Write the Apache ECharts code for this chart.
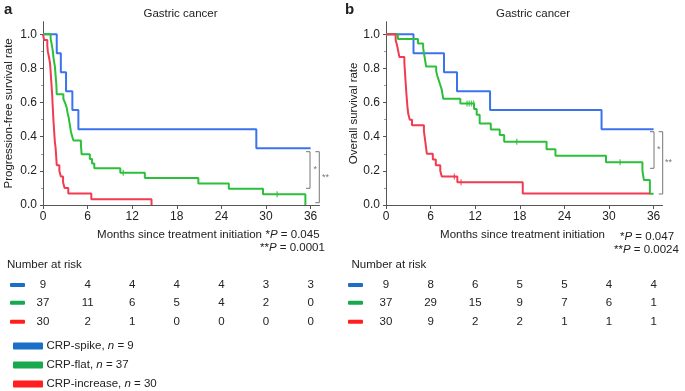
<!DOCTYPE html>
<html>
<head>
<meta charset="utf-8">
<script src="https://cdn.jsdelivr.net/npm/echarts@6/dist/echarts.min.js"></script>
<style>html,body{margin:0;padding:0;background:#fff}#c{width:685px;height:391px}</style>
</head>
<body>
<div id="c"></div>
<script>
// ---------- DATA ----------
const monthTicks = [0, 6, 12, 18, 24, 30, 36];
const yTicks = [0, 0.2, 0.4, 0.6, 0.8, 1.0];
const yMinorTicks = [0.1, 0.3, 0.5, 0.7, 0.9];
const groupNames = ['CRP-spike', 'CRP-flat', 'CRP-increase'];
const groupN = [9, 37, 30];

// Panel a: progression-free survival (step points: time, survival)
const aSpikeT = [0, 1.85, 2.4, 3.1, 3.95, 4.76, 28.7, 36];
const aSpikeS = [1, 0.889, 0.778, 0.667, 0.556, 0.444, 0.333, 0.333];
const aFlatT = [0, 1.03, 1.15, 1.26, 1.35, 1.4, 1.5, 1.6, 1.65, 1.7, 1.75, 1.8, 1.82, 1.85, 2.74, 3.0, 3.2, 3.3, 3.45, 3.55, 3.65, 3.75, 3.9, 4.1, 5.1, 5.15, 5.2, 6.3, 6.6, 6.9, 10.4, 13.7, 20.9, 25.0, 29.6, 35.3];
const aFlatS = [1, 0.973, 0.946, 0.919, 0.892, 0.865, 0.838, 0.811, 0.784, 0.757, 0.73, 0.703, 0.676, 0.649, 0.622, 0.595, 0.568, 0.541, 0.514, 0.486, 0.459, 0.432, 0.405, 0.378, 0.351, 0.324, 0.297, 0.27, 0.243, 0.216, 0.189, 0.158, 0.126, 0.095, 0.063, 0];
const aIncT = [0, 0.15, 0.58, 0.65, 0.8, 0.94, 1.0, 1.05, 1.1, 1.15, 1.2, 1.25, 1.28, 1.32, 1.36, 1.4, 1.45, 1.5, 1.55, 1.6, 1.7, 1.75, 1.8, 1.85, 2.2, 2.4, 2.7, 2.9, 3.4, 6.5, 14.6];
const aIncS = [1, 0.967, 0.933, 0.9, 0.867, 0.833, 0.8, 0.767, 0.733, 0.7, 0.667, 0.633, 0.6, 0.567, 0.533, 0.5, 0.467, 0.433, 0.4, 0.367, 0.333, 0.3, 0.267, 0.233, 0.2, 0.167, 0.133, 0.1, 0.067, 0.033, 0];
const aFlatCensT = [10.8, 31.5];
const aFlatCensS = [0.189, 0.063];

// Panel b: overall survival
const bSpikeT = [0, 3.7, 7.8, 9.55, 14, 29, 36];
const bSpikeS = [1, 0.889, 0.778, 0.667, 0.556, 0.444, 0.444];
const bFlatT = [0, 1.6, 4.3, 5.0, 5.1, 5.2, 5.3, 5.4, 6.75, 6.9, 7.1, 7.3, 7.5, 7.6, 7.7, 10.0, 11.85, 12.2, 12.6, 14.1, 15.3, 15.9, 21.6, 22.8, 29.6, 34.5, 34.7, 35.5, 36];
const bFlatS = [1, 0.973, 0.946, 0.919, 0.892, 0.865, 0.838, 0.811, 0.784, 0.757, 0.73, 0.703, 0.676, 0.649, 0.622, 0.595, 0.562, 0.529, 0.478, 0.443, 0.41, 0.37, 0.326, 0.289, 0.25, 0.2, 0.146, 0.066, 0.066];
const bIncT = [0, 1.3, 1.5, 1.65, 1.8, 2.47, 2.52, 2.57, 2.62, 2.67, 2.72, 2.78, 2.84, 2.9, 3.0, 3.2, 3.5, 5.1, 5.2, 5.3, 5.4, 5.5, 6.3, 6.7, 7.3, 7.5, 9.6, 18.4, 35.5];
const bIncS = [1, 0.967, 0.933, 0.9, 0.867, 0.833, 0.8, 0.767, 0.733, 0.7, 0.667, 0.633, 0.6, 0.567, 0.533, 0.5, 0.467, 0.433, 0.4, 0.367, 0.333, 0.3, 0.267, 0.233, 0.2, 0.167, 0.133, 0.067, 0.067];
const bFlatCensT = [10.9, 11.2, 11.5, 11.8, 17.6, 31.5];
const bFlatCensS = [0.595, 0.595, 0.595, 0.595, 0.37, 0.25];
const bIncCensT = [9.2, 10.1];
const bIncCensS = [0.167, 0.133];

// Number at risk
const aRiskSpike = [9, 4, 4, 4, 4, 3, 3];
const aRiskFlat = [37, 11, 6, 5, 4, 2, 0];
const aRiskInc = [30, 2, 1, 0, 0, 0, 0];
const bRiskSpike = [9, 8, 6, 5, 5, 4, 4];
const bRiskFlat = [37, 29, 15, 9, 7, 6, 1];
const bRiskInc = [30, 9, 2, 2, 1, 1, 1];

// ---------- STYLE ----------
const FONT = "'Liberation Sans', Arial, Helvetica, sans-serif";
const lineCols = ['#3b73ee', '#2cbf3a', '#f23a50'];
const keyCols = ['#1b6fc6', '#18a84e', '#ff1f1f'];
const AX = '#555';
const XMAX = 37.2, YMAX = 1.074;

const pair = (t, s) => t.map((x, i) => [x, s[i]]);

function xAxisFor(g) {
  return {
    type: 'value', gridIndex: g, min: 0, max: XMAX, interval: 6,
    axisLine: { show: true, onZero: false, lineStyle: { color: AX, width: 1 } },
    axisTick: { show: true, length: 4, lineStyle: { color: AX }, customValues: monthTicks },
    axisLabel: { show: true, color: '#222', fontSize: 12, fontFamily: FONT, margin: 6, customValues: monthTicks },
    splitLine: { show: false }
  };
}
function yAxisFor(g, name, gap) {
  return {
    type: 'value', gridIndex: g, min: 0, max: YMAX, interval: 0.2,
    name: name, nameLocation: 'middle', nameGap: gap,
    nameTextStyle: { color: '#222', fontSize: 11.5, fontFamily: FONT },
    axisLine: { show: true, onZero: false, lineStyle: { color: AX, width: 1 } },
    axisTick: { show: true, length: 3, lineStyle: { color: AX }, customValues: yTicks },
    axisLabel: { show: true, color: '#222', fontSize: 12, fontFamily: FONT, margin: 6, customValues: yTicks,
      formatter: v => Number(v).toFixed(1) },
    splitLine: { show: false }
  };
}
function yMinorFor(g) {
  return {
    type: 'value', gridIndex: g, min: 0, max: YMAX, position: 'left',
    axisLine: { show: false },
    axisTick: { show: true, length: 2, lineStyle: { color: '#999' }, customValues: yMinorTicks },
    axisLabel: { show: false },
    splitLine: { show: false }
  };
}
function km(x, y, data, col) {
  return { type: 'line', xAxisIndex: x, yAxisIndex: y, data: data, step: 'end', showSymbol: false, symbol: 'none',
    lineStyle: { color: col, width: 2 }, itemStyle: { color: col }, silent: true, animation: false, z: 3 };
}
function cens(x, y, data, col) {
  return { type: 'scatter', xAxisIndex: x, yAxisIndex: y, data: data, symbol: 'rect', symbolSize: [1.3, 6],
    itemStyle: { color: col }, silent: true, animation: false, z: 4 };
}

const chart = echarts.init(document.getElementById('c'), null, { renderer: 'canvas' });
chart.setOption({
  animation: false,
  textStyle: { fontFamily: FONT },
  grid: [
    { left: 43, top: 21.7, width: 276.5, height: 183.3 },
    { left: 386, top: 21.7, width: 276.5, height: 183.3 }
  ],
  xAxis: [xAxisFor(0), xAxisFor(1)],
  yAxis: [yAxisFor(0, 'Progression-free survival rate', 28), yMinorFor(0),
          yAxisFor(1, 'Overall survival rate', 26), yMinorFor(1)],
  series: [
    km(0, 0, pair(aSpikeT, aSpikeS), lineCols[0]),
    km(0, 0, pair(aFlatT, aFlatS), lineCols[1]),
    km(0, 0, pair(aIncT, aIncS), lineCols[2]),
    cens(0, 0, pair(aFlatCensT, aFlatCensS), lineCols[1]),
    km(1, 2, pair(bSpikeT, bSpikeS), lineCols[0]),
    km(1, 2, pair(bFlatT, bFlatS), lineCols[1]),
    km(1, 2, pair(bIncT, bIncS), lineCols[2]),
    cens(1, 2, pair(bFlatCensT, bFlatCensS), lineCols[1]),
    cens(1, 2, pair(bIncCensT, bIncCensS), lineCols[2])
  ]
});

// ---------- annotations ----------
const els = [];
function txt(text, x, y, opt) {
  opt = opt || {};
  els.push({ type: 'text', silent: true, style: Object.assign({
    text: text, x: x, y: y, fill: '#222', font: (opt.weight || 'normal') + ' ' + (opt.size || 11.5) + 'px ' + FONT,
    textAlign: opt.align || 'left', align: opt.align || 'left', textVerticalAlign: 'middle', verticalAlign: 'middle'
  }, opt.rich ? { rich: opt.rich } : {}) });
}
function seg(x1, y1, x2, y2, col) {
  els.push({ type: 'line', silent: true, shape: { x1, y1, x2, y2 }, style: { stroke: col || '#777', lineWidth: 1 } });
}
function rect(x, y, w, h, col) {
  els.push({ type: 'rect', silent: true, shape: { x, y, width: w, height: h, r: 1 }, style: { fill: col } });
}
const richI = { i: { fontStyle: 'italic', fontSize: 11.5, fontFamily: FONT, fill: '#222' }, s: { fontSize: 11.5, fontFamily: FONT, fill: '#222' } };

// panel letters & titles
txt('a', 4, 10, { weight: 'bold', size: 15 });
txt('b', 345, 10, { weight: 'bold', size: 15 });
txt('Gastric cancer', 180.5, 14, { align: 'center', size: 11.5 });
txt('Gastric cancer', 533, 14, { align: 'center', size: 11.5 });

// x-axis names and P values
txt('Months since treatment initiation', 262, 235, { align: 'right' });
txt('Months since treatment initiation', 605, 235, { align: 'right' });
txt('{s|*}{i|P}{s| = 0.045}', 265.5, 235, { rich: richI });
txt('{s|**}{i|P}{s| = 0.0001}', 260, 247.5, { rich: richI });
txt('{s|*}{i|P}{s| = 0.047}', 620, 237, { rich: richI });
txt('{s|**}{i|P}{s| = 0.0024}', 614, 250, { rich: richI });

// significance brackets (pixel annotations)
function bracket(x, yTop, yBot, tickLen, label, lx) {
  seg(x, yTop, x, yBot);
  seg(x - tickLen, yTop, x, yTop);
  seg(x - tickLen, yBot, x, yBot);
  els.push({ type: 'text', silent: true, style: { text: label, x: lx, y: (yTop + yBot) / 2, fill: '#777',
    font: '9px ' + FONT, textAlign: 'left', align: 'left', textVerticalAlign: 'middle', verticalAlign: 'middle' } });
}
bracket(310, 151.7, 188.3, 4, '*', 313.5);
bracket(319.3, 151.7, 202.7, 4, '**', 322);
bracket(654, 131.7, 168.3, 4, '*', 657);
bracket(662.7, 131.7, 194, 4, '**', 665);

// number at risk tables
function riskTable(gridX, titleX, markerX, rows) {
  txt('Number at risk', titleX, 265);
  const rowY = [285, 302.7, 321.7];
  rows.forEach((vals, r) => {
    rect(markerX, rowY[r] - 2, 15, 4, keyCols[r]);
    vals.forEach((v, k) => {
      const px = chart.convertToPixel({ xAxisIndex: gridX }, monthTicks[k]);
      txt(String(v), px, rowY[r], { align: 'center' });
    });
  });
}
riskTable(0, 7, 10, [aRiskSpike, aRiskFlat, aRiskInc]);
riskTable(1, 351.5, 348, [bRiskSpike, bRiskFlat, bRiskInc]);

// legend
const legY = [346, 365, 384];
groupNames.forEach((g, i) => {
  rect(13, legY[i] - 3.5, 30, 7, keyCols[i]);
  txt(g + ', {i|n}{s| = ' + groupN[i] + '}', 46.5, legY[i], { rich: richI });
});

chart.setOption({ graphic: { elements: els } });
</script>
</body>
</html>
